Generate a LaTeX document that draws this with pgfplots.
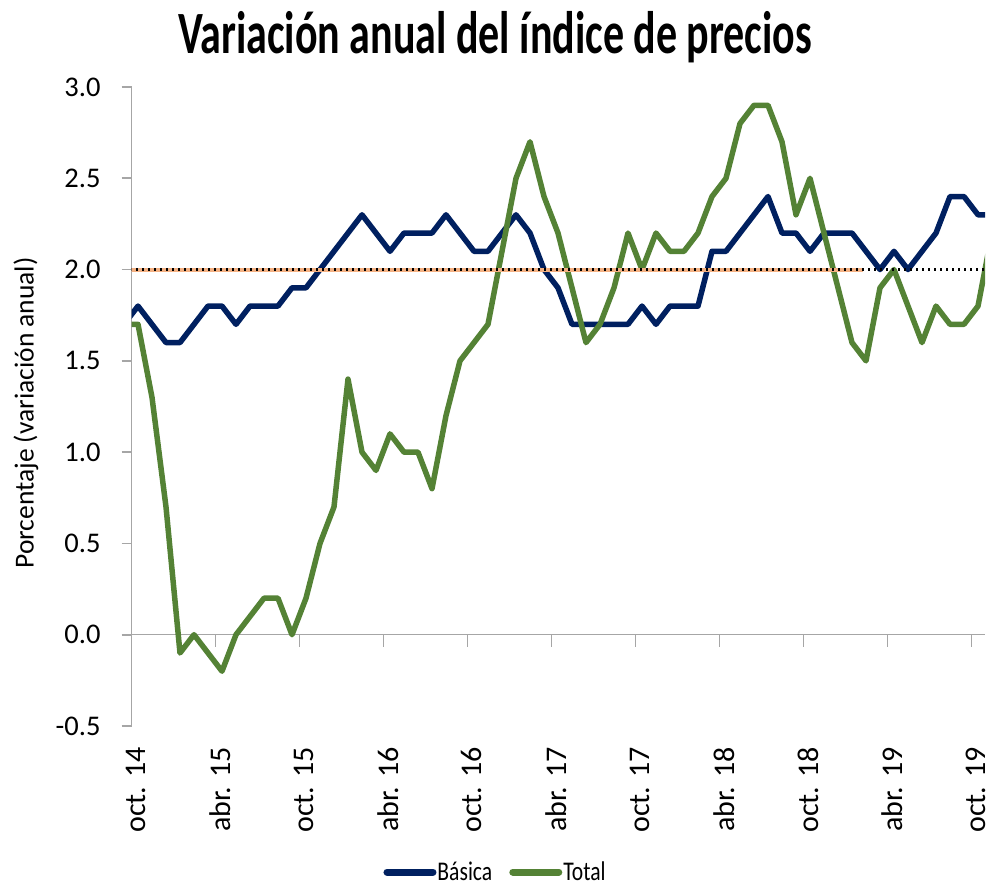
\documentclass[border=0pt]{standalone}
\usepackage{fontspec}
\setmainfont{Carlito}
\usepackage{graphicx}
\usepackage{pgfplots}
\pgfplotsset{compat=1.18}
\definecolor{navy}{HTML}{002060}
\definecolor{olive}{HTML}{548235}
\definecolor{salmon}{HTML}{F4B183}
\definecolor{axgray}{HTML}{A6A6A6}

\pgfplotstableread{
k v
-1 1.7
0 1.8
1 1.7
2 1.6
3 1.6
4 1.7
5 1.8
6 1.8
7 1.7
8 1.8
9 1.8
10 1.8
11 1.9
12 1.9
13 2.0
14 2.1
15 2.2
16 2.3
17 2.2
18 2.1
19 2.2
20 2.2
21 2.2
22 2.3
23 2.2
24 2.1
25 2.1
26 2.2
27 2.3
28 2.2
29 2.0
30 1.9
31 1.7
32 1.7
33 1.7
34 1.7
35 1.7
36 1.8
37 1.7
38 1.8
39 1.8
40 1.8
41 2.1
42 2.1
43 2.2
44 2.3
45 2.4
46 2.2
47 2.2
48 2.1
49 2.2
50 2.2
51 2.2
52 2.1
53 2.0
54 2.1
55 2.0
56 2.1
57 2.2
58 2.4
59 2.4
60 2.3
61 2.3
}\basica

\pgfplotstableread{
k v
-1 1.7
0 1.7
1 1.3
2 0.7
3 -0.1
4 0.0
5 -0.1
6 -0.2
7 0.0
8 0.1
9 0.2
10 0.2
11 0.0
12 0.2
13 0.5
14 0.7
15 1.4
16 1.0
17 0.9
18 1.1
19 1.0
20 1.0
21 0.8
22 1.2
23 1.5
24 1.6
25 1.7
26 2.1
27 2.5
28 2.7
29 2.4
30 2.2
31 1.9
32 1.6
33 1.7
34 1.9
35 2.2
36 2.0
37 2.2
38 2.1
39 2.1
40 2.2
41 2.4
42 2.5
43 2.8
44 2.9
45 2.9
46 2.7
47 2.3
48 2.5
49 2.2
50 1.9
51 1.6
52 1.5
53 1.9
54 2.0
55 1.8
56 1.6
57 1.8
58 1.7
59 1.7
60 1.8
61 2.2
}\total

\begin{document}
\begin{tikzpicture}
\useasboundingbox (0,0) rectangle (992bp,888bp);
\begin{axis}[
  at={(131.7bp,162bp)}, anchor=south west,
  scale only axis, width=853.3bp, height=639bp,
  xmin=-0.45, xmax=60.5, ymin=-0.5, ymax=3.0,
  axis y line*=left, axis x line*=bottom,
  x axis line style={draw=none},
  y axis line style={axgray, line width=1.5bp},
  tick align=outside,
  major tick length=10bp,
  xtick style={draw=none},
  ytick style={axgray, line width=1.8bp},
  ytick={-0.5,0,0.5,1,1.5,2,2.5,3},
  yticklabel={\pgfmathprintnumber[assume math mode=true,fixed,fixed zerofill,precision=1]{\tick}},
  yticklabel style={anchor=east, inner sep=0pt, font=\fontsize{28.5bp}{28.5bp}\selectfont, text=black},
  yticklabel shift=21bp,
  xtick={-0.15,5.85,11.85,17.85,23.85,29.85,35.85,41.85,47.85,53.85,59.85},
  xticklabels={oct. 14,abr. 15,oct. 15,abr. 16,oct. 16,abr. 17,oct. 17,abr. 18,oct. 18,abr. 19,oct. 19},
  xticklabel style={rotate=90, anchor=east, inner sep=0pt, font=\fontsize{30bp}{30bp}\selectfont, text=black},
  xticklabel shift=11bp,
  title={\scalebox{0.7}[1]{\fontsize{60bp}{60bp}\selectfont\bfseries Variación anual del índice de precios}},
  title style={at={(axis description cs:0.4258,1.0430)}, anchor=base, inner sep=0pt},
  ylabel={Porcentaje (variación anual)},
  ylabel style={at={(axis description cs:-0.1239,0.490)}, anchor=center, inner sep=0pt, font=\fontsize{27.5bp}{27.5bp}\selectfont},
  legend style={at={(axis description cs:0.4258,-0.2285)}, anchor=center, draw=none, fill=none,
    font=\fontsize{27bp}{27bp}\selectfont, nodes={inner sep=1bp},
    /tikz/every even column/.style={column sep=16bp}},
  legend columns=2,
  legend image code/.code={\draw[#1, line width=7bp, line cap=round] (0bp,0bp) -- (46bp,0bp);},
  every axis plot/.append style={no markers, line join=round},
]
\addplot[axgray, line width=1.5bp, forget plot] coordinates {(-0.45,0) (60.5,0)};
\addplot[axgray, line width=1.5bp, ycomb, forget plot] coordinates {(5.55,-0.066) (11.55,-0.066) (17.55,-0.066) (23.55,-0.066) (29.55,-0.066) (35.55,-0.066) (41.55,-0.066) (47.55,-0.066) (53.55,-0.066) (59.55,-0.066)};
\addplot[navy, line width=5.5bp] table[x=k, y=v] {\basica};
\addlegendentry{\scalebox{0.8}[1]{Básica}}
\addplot[olive, line width=5.5bp] table[x=k, y=v] {\total};
\addlegendentry{\scalebox{0.8}[1]{Total}}
\addplot[salmon, line width=4bp, forget plot] coordinates {(-1,2) (51.8,2)};
\addplot[black, line width=2.2bp, dash pattern=on 2.2bp off 3.8bp, forget plot] coordinates {(-1,2) (61,2)};
\end{axis}
\end{tikzpicture}
\end{document}
